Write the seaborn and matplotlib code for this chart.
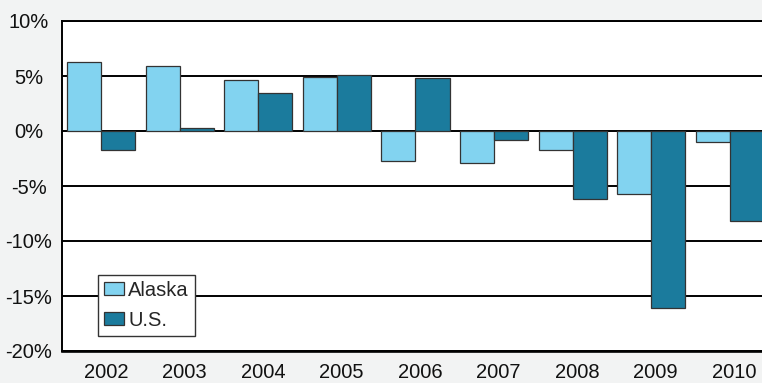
import matplotlib
matplotlib.use("Agg")
import matplotlib.pyplot as plt
import matplotlib.transforms as mtransforms
import seaborn as sns
import pandas as pd
from matplotlib.ticker import FuncFormatter

years = ["2002", "2003", "2004", "2005", "2006", "2007", "2008", "2009", "2010"]
alaska = [6.3, 5.9, 4.6, 4.9, -2.7, -2.9, -1.7, -5.7, -1.0]
us = [-1.7, 0.3, 3.5, 5.1, 4.8, -0.8, -6.2, -16.1, -8.2]
series = ["Alaska", "U.S."]
colors = ["#82d3f0", "#1b7b9d"]
yticks = [-20, -15, -10, -5, 0, 5, 10]

df = pd.DataFrame({
    "Year": years * 2,
    "Change": alaska + us,
    "Area": [series[0]] * len(years) + [series[1]] * len(years),
})

sns.set_theme(style="white")
plt.rcParams["font.family"] = ["Liberation Sans", "DejaVu Sans"]

fig = plt.figure(figsize=(7.62, 3.83), dpi=100, facecolor="#f2f3f3")
# plot area runs slightly past the right edge of the figure
ax = fig.add_axes([62 / 762, 32 / 383, 707 / 762, 330 / 383])
ax.set_facecolor("white")

for y in yticks:
    ax.axhline(y, color="black", lw=1.4, zorder=0)

sns.barplot(data=df, x="Year", y="Change", hue="Area", order=years,
            hue_order=series, palette=colors, width=0.866, gap=0,
            edgecolor="#333333", linewidth=0.9, saturation=1, ax=ax, zorder=2)

ax.set_ylim(-20, 10)
ax.set_xlim(-0.5, len(years) - 0.5)
ax.set_yticks(yticks)
ax.yaxis.set_major_formatter(FuncFormatter(lambda v, _: f"{v:.0f}%"))
ax.set_xlabel("")
ax.set_ylabel("")
ax.tick_params(axis="both", length=0, labelsize=14.5, colors="#111111")
ax.tick_params(axis="x", pad=9)
ax.tick_params(axis="y", pad=24)
for lab in ax.get_yticklabels():
    lab.set_horizontalalignment("center")
shift = mtransforms.ScaledTranslation(4.5 / 100, 0, fig.dpi_scale_trans)
for lab in ax.get_xticklabels():
    lab.set_transform(lab.get_transform() + shift)

ax.spines["right"].set_visible(False)
for side in ["left", "top", "bottom"]:
    ax.spines[side].set_color("black")
    ax.spines[side].set_linewidth(1.4)
ax.spines["bottom"].set_linewidth(1.9)

leg = ax.legend(loc="lower left", bbox_to_anchor=(36 / 707, 15 / 330), borderaxespad=0,
                fontsize=14.5, frameon=True, fancybox=False, framealpha=1,
                edgecolor="#333333", handlelength=1.0, handleheight=0.6,
                handletextpad=0.2, labelspacing=0.55, borderpad=0.3)
leg.get_frame().set_linewidth(1.0)

fig.savefig("out.png", dpi=100, facecolor=fig.get_facecolor())
